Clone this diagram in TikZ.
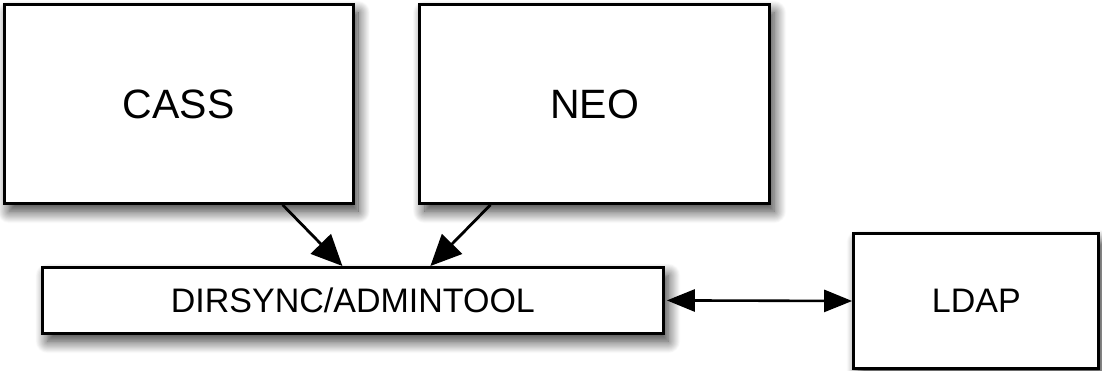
\documentclass[tikz,border=0pt]{standalone}
\usepackage{fontspec}
\setmainfont{Liberation Sans}
\usetikzlibrary{arrows.meta,shadows.blur,calc}
\begin{document}
\begin{tikzpicture}[x=1pt,y=-1pt,
  box/.style={draw=black, line width=3pt, fill=white, inner sep=0pt,
    blur shadow={shadow xshift=5pt, shadow yshift=-8pt, shadow blur radius=12pt, shadow opacity=80, shadow blur steps=20}},
  bigtxt/.style={font=\fontsize{41}{48}\selectfont},
  smalltxt/.style={font=\fontsize{34}{40}\selectfont},
  bigtip/.tip={Triangle[length=31pt,width=28pt]},
  smalltip/.tip={Triangle[length=28pt,width=22pt]},
  conn/.style={line width=2.8pt, -bigtip},
  biconn/.style={line width=2.6pt, smalltip-smalltip}
]
\useasboundingbox (0,0) rectangle (1102,371);
\node[box, bigtxt, minimum width=349pt, minimum height=198.6pt] (cass) at (178.6,104) {CASS};
\node[box, bigtxt, minimum width=349.5pt, minimum height=198.6pt] (neo) at (594.5,104) {NEO};
\node[box, smalltxt, minimum width=620.8pt, minimum height=65.8pt] (dir) at (352.9,300.4) {DIRSYNC/ADMINTOOL};
\node[box, smalltxt, minimum width=245.3pt, minimum height=134pt] (ldap) at (976.3,301) {LDAP};
\draw[conn] ([xshift=104pt]cass.south) -- ([xshift=-10.5pt]dir.north);
\draw[conn] ([xshift=-104pt]neo.south) -- ([xshift=77.5pt]dir.north);
\draw[biconn, shorten <=2pt] (dir.east) -- (ldap.west);
\end{tikzpicture}
\end{document}
